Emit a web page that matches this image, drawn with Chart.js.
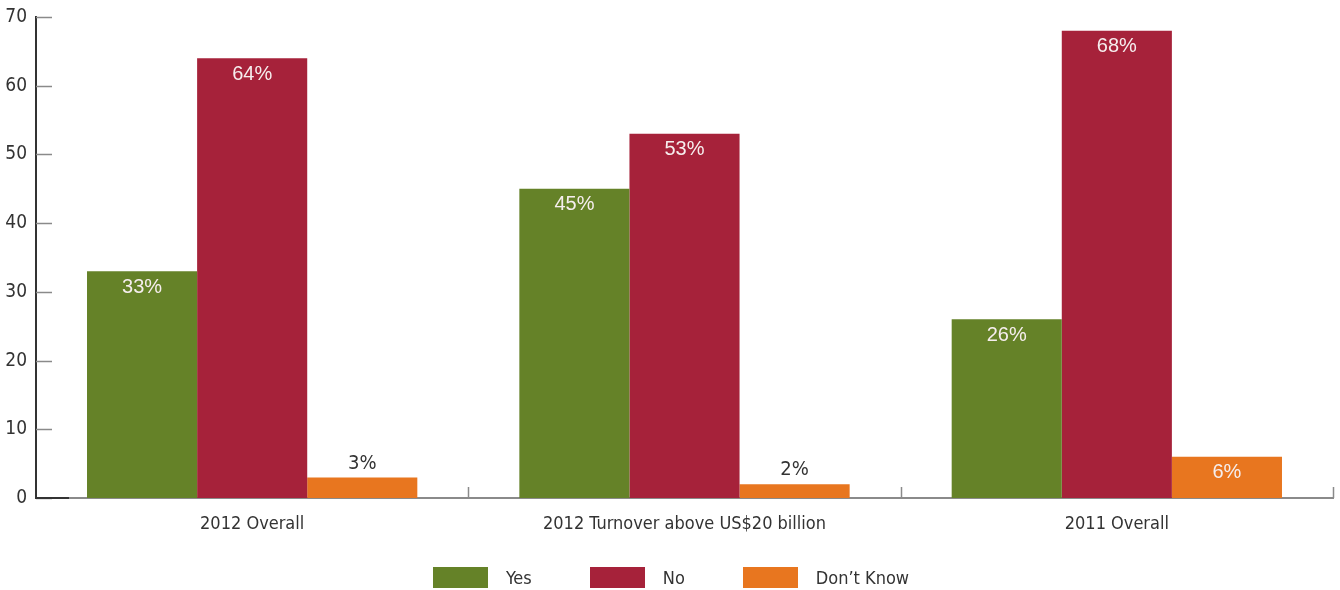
<!DOCTYPE html>
<html>
<head>
<meta charset="utf-8">
<script src="https://cdn.jsdelivr.net/npm/chart.js@4/dist/chart.umd.min.js"></script>
<style>
body { margin: 0; background: #fff; overflow: hidden; }
#cadre { position: relative; width: 1340px; height: 590px; }
#graphique { display: block; }
#legende {
    position: absolute; left: 1px; top: 567px; width: 1340px;
    display: flex; justify-content: center;
    font-family: 'DejaVu Sans Condensed', sans-serif;
    font-size: 18px; color: #333;
}
.item { display: flex; align-items: center; margin: 0 29px; height: 21px; }
.boite { width: 55px; height: 21px; margin-right: 18px; }
</style>
</head>
<body>
<div id="cadre">
    <canvas id="graphique" width="1340" height="590"></canvas>
    <div id="legende"></div>
</div>
<script>
let categories = ['2012 Overall', '2012 Turnover above US$20 billion', '2011 Overall'];
let series = ['Yes', 'No', "Don\u2019t Know"];
let oui = [33, 45, 26];
let non = [64, 53, 68];
let nsp = [3, 2, 6];
let couleurs = ['#658228', '#a6223a', '#e8761f'];
let graduations = [0, 10, 20, 30, 40, 50, 60, 70];

let policeEtroite = "'DejaVu Sans Condensed', sans-serif";

// petits traits vers l'interieur sur les axes
let traitsAxes = {
    id: 'traitsAxes',
    afterDraw(chart) {
        let ctx = chart.ctx;
        let y = chart.scales.y;
        let x = chart.scales.x;
        ctx.save();
        ctx.strokeStyle = '#8a8a8a';
        ctx.lineWidth = 1.5;
        graduations.forEach(function (v) {
            let py = Math.round(y.getPixelForValue(v)) + 0.5;
            ctx.beginPath();
            ctx.moveTo(y.right, py);
            ctx.lineTo(y.right + 16, py);
            ctx.stroke();
        });
        for (let i = 1; i <= categories.length; i++) {
            let px = Math.round(x.getPixelForValue(i - 0.5)) + 0.5;
            ctx.beginPath();
            ctx.moveTo(px, x.top);
            ctx.lineTo(px, x.top - 11);
            ctx.stroke();
        }
        // debut de l'axe x plus fonce
        ctx.strokeStyle = '#333';
        ctx.lineWidth = 2;
        ctx.beginPath();
        ctx.moveTo(y.right, x.top);
        ctx.lineTo(y.right + 33, x.top);
        ctx.stroke();
        ctx.restore();
    }
};

// valeurs au-dessus ou dans les barres
let etiquettes = {
    id: 'etiquettes',
    afterDatasetsDraw(chart) {
        let ctx = chart.ctx;
        ctx.save();
        ctx.textAlign = 'center';
        ctx.textBaseline = 'middle';
        chart.data.datasets.forEach(function (ds, i) {
            chart.getDatasetMeta(i).data.forEach(function (barre, j) {
                let v = ds.data[j];
                if (v >= 5) {
                    ctx.fillStyle = '#f6eeee';
                    ctx.font = "20px 'Liberation Sans', sans-serif";
                    ctx.fillText(v + '%', barre.x, barre.y + 16);
                } else {
                    ctx.fillStyle = '#333';
                    ctx.font = '20px ' + policeEtroite;
                    ctx.fillText(v + '%', barre.x, barre.y - 14);
                }
            });
        });
        ctx.restore();
    }
};

let cvs = document.getElementById('graphique').getContext('2d');
let graphe = new Chart(cvs, {
    type: 'bar',
    data: {
        labels: categories,
        datasets: [
            { label: series[0], data: oui, backgroundColor: couleurs[0] },
            { label: series[1], data: non, backgroundColor: couleurs[1] },
            { label: series[2], data: nsp, backgroundColor: couleurs[2] }
        ]
    },
    options: {
        responsive: false,
        animation: false,
        layout: { padding: { top: 17, right: 7, left: 0, bottom: 0 } },
        categoryPercentage: 0.764,
        barPercentage: 1,
        plugins: {
            legend: { display: false },
            tooltip: { enabled: false }
        },
        scales: {
            x: {
                grid: { display: false, drawTicks: false },
                border: { display: true, color: '#8a8a8a', width: 2 },
                ticks: { color: '#333', font: { family: policeEtroite, size: 18 }, padding: 16 },
                afterFit: function (s) { s.height = 92; }
            },
            y: {
                min: 0,
                max: 70,
                grid: { display: false, drawTicks: false },
                border: { display: true, color: '#333', width: 2 },
                ticks: { stepSize: 10, color: '#333', font: { family: policeEtroite, size: 19 }, padding: 9 },
                afterFit: function (s) {
                    s.width = 36;
                    s.paddingTop = 0;
                    s.paddingBottom = 0;
                }
            }
        }
    },
    plugins: [traitsAxes, etiquettes]
});

let legende = document.getElementById('legende');
series.forEach(function (nom, i) {
    legende.innerHTML += "<div class='item'><div class='boite' style='background:" + couleurs[i] + "'></div>" + nom + "</div>";
});
</script>
</body>
</html>
